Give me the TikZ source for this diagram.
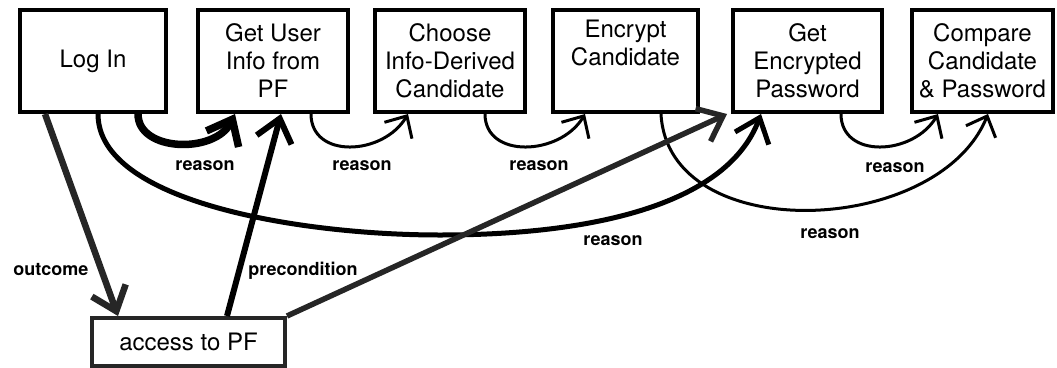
\documentclass[tikz,border=0pt]{standalone}
\usepackage{fontspec}
\setmainfont{TeX Gyre Heros}
\usetikzlibrary{arrows.meta}
\begin{document}
\begin{tikzpicture}[x=1pt,y=-1pt,
  box/.style={draw, line width=4pt, inner sep=0pt, minimum height=102pt,
    align=center, font=\fontsize{24}{28}\selectfont},
  pfbox/.style={draw=black!85, line width=4pt, inner sep=0pt,
    font=\fontsize{24}{28}\selectfont},
  lbl/.style={anchor=base, inner sep=0pt, font=\bfseries\fontsize{18}{20}\selectfont},
  tip/.style={-{Straight Barb[length=22pt,width=36pt]}},
  smalltip/.style={-{Straight Barb[length=17pt,width=32pt]}},
  reasonthin/.style={draw, line width=3pt, smalltip},
  reasonmid/.style={draw, line width=5pt, tip},
  reasonthick/.style={draw, line width=7.5pt, tip},
  linkgray/.style={draw=black!85, line width=6.5pt, tip},
]
\useasboundingbox (0,0) rectangle (1057,367);

% step boxes
\node[box, minimum width=146pt] (login)   at (93,61)    {Log In};
\node[box, minimum width=150pt] (user)    at (273,61)   {Get User\\Info from\\PF};
\node[box, minimum width=150pt] (choose)  at (450,61)   {Choose\\Info-Derived\\Candidate};
\node[box, minimum width=145pt] (encrypt) at (625.5,61) {Encrypt\\Candidate\\\strut};
\node[box, minimum width=149pt] (getenc)  at (807.5,61) {Get\\Encrypted\\Password};
\node[box, minimum width=141pt] (compare) at (982.5,61) {Compare\\Candidate\\\& Password};

% resource box
\node[pfbox, minimum width=193pt, minimum height=48pt] (pf) at (188.5,342) {access to PF};

% reason links between neighbouring steps
\path[reasonthick] ([xshift=120pt]login.south west)
  .. controls +(0,38) and +(-20,40) .. ([xshift=39pt]user.south west);
\path[reasonthin] ([xshift=115pt]user.south west)
  .. controls +(0,45) and +(-25,42) .. ([xshift=35pt]choose.south west);
\path[reasonthin] ([xshift=112pt]choose.south west)
  .. controls +(0,45) and +(-25,42) .. ([xshift=34pt]encrypt.south west);
\path[reasonthin] ([xshift=110pt]getenc.south west)
  .. controls +(0,45) and +(-25,42) .. ([xshift=28pt]compare.south west);

% long reason links
\path[reasonthin] ([xshift=110pt]encrypt.south west)
  .. controls +(7,133) and +(-50,123) .. ([xshift=78pt]compare.south west);
\coordinate (low) at (440,235);
\path[reasonmid] ([xshift=80pt]login.south west)
  .. controls +(0,88) and +(-140,0) .. (low)
  .. controls +(160,0) and +(-33,88) .. ([xshift=30pt]getenc.south west);

% outcome and preconditions
\path[linkgray] ([xshift=27pt]login.south west) -- ([xshift=28pt]pf.north west);
\path[draw, line width=6pt, tip] ([xshift=137pt]pf.north west) -- ([xshift=85pt]user.south west);
\path[draw=black!85, line width=5.5pt, tip] (pf.north east) -- ([xshift=-4pt]getenc.south west);

% labels
\node[lbl] (r1) at (205,170) {reason};
\node[lbl] (r2) at (362,170) {reason};
\node[lbl] (r3) at (539,170) {reason};
\node[lbl] (r4) at (895,172) {reason};
\node[lbl] (r5) at (830,238) {reason};
\node[lbl] (r6) at (613,245) {reason};
\node[lbl] (oc) at (51,275) {outcome};
\node[lbl] (pc) at (303,275) {precondition};
\end{tikzpicture}
\end{document}
